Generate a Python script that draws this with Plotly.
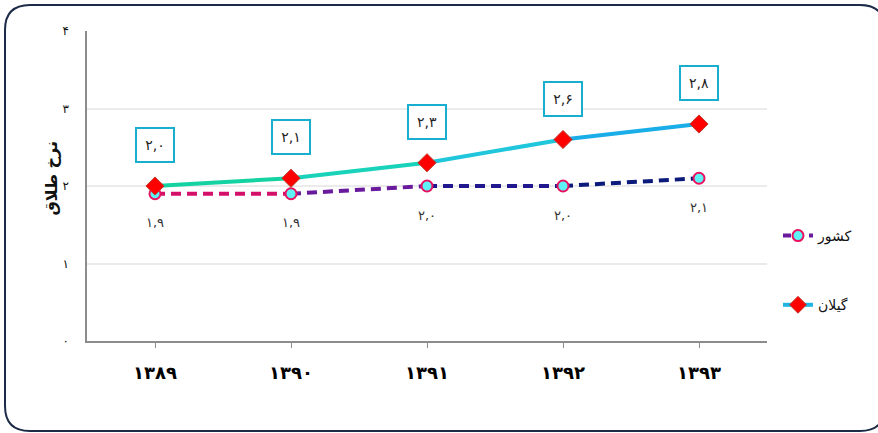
import plotly.graph_objects as go

years = ["۱۳۸۹", "۱۳۹۰", "۱۳۹۱", "۱۳۹۲", "۱۳۹۳"]
keshvar = [1.9, 1.9, 2.0, 2.0, 2.1]
gilan = [2.0, 2.1, 2.3, 2.6, 2.8]
y_ticks = [0, 1, 2, 3, 4]
y_tick_text = ["۰", "۱", "۲", "۳", "۴"]
name_keshvar = "کشور"
name_gilan = "گیلان"
y_title = "نرخ طلاق"

keshvar_seg_colors = ["#d4106a", "#6a1a9c", "#22188e", "#0c1a7c"]
gilan_seg_colors = ["#14d2a2", "#18d2ba", "#1fc6dc", "#1aaee8"]

W, H = 878, 433
ML, MR, MT, MB = 87, 111, 31, 92
PW = W - ML - MR
PH = H - MT - MB

FA = str.maketrans("0123456789.", "۰۱۲۳۴۵۶۷۸۹,")


def fa(v):
    return f"{v:.1f}".translate(FA)


def px(x):
    return (x - ML) / PW


def py(y):
    return (H - MB - y) / PH


x_idx = list(range(len(years)))
fig = go.Figure()

# legend proxies
fig.add_trace(go.Scatter(x=[None], y=[None], mode="lines+markers", name=name_keshvar,
                         legendgroup="k",
                         line=dict(color="#6a1a9c", width=4, dash="8px,5px"),
                         marker=dict(symbol="circle", size=11, color="#5ef2f5",
                                     line=dict(color="#ea1060", width=2))))
fig.add_trace(go.Scatter(x=[None], y=[None], mode="lines+markers", name=name_gilan,
                         legendgroup="g",
                         line=dict(color="#1fb4e4", width=4),
                         marker=dict(symbol="diamond", size=13, color="#ff0000",
                                     line=dict(color="#c0392b", width=1))))

# country segments
for i in range(len(years) - 1):
    fig.add_trace(go.Scatter(x=x_idx[i:i + 2], y=keshvar[i:i + 2], mode="lines",
                             showlegend=False, hoverinfo="skip",
                             line=dict(color=keshvar_seg_colors[i], width=4, dash="10px,6px")))
fig.add_trace(go.Scatter(x=x_idx, y=keshvar, mode="markers", showlegend=False,
                         marker=dict(symbol="circle", size=11, color="#5ef2f5",
                                     line=dict(color="#ea1060", width=2))))
# gilan segments
for i in range(len(years) - 1):
    fig.add_trace(go.Scatter(x=x_idx[i:i + 2], y=gilan[i:i + 2], mode="lines",
                             showlegend=False, hoverinfo="skip",
                             line=dict(color=gilan_seg_colors[i], width=4)))
fig.add_trace(go.Scatter(x=x_idx, y=gilan, mode="markers", showlegend=False,
                         marker=dict(symbol="diamond", size=14, color="#ff0000",
                                     line=dict(color="#c0392b", width=1))))

annotations = []
for i, v in enumerate(gilan):
    annotations.append(dict(x=x_idx[i], y=v, xref="x", yref="y", text=fa(v),
                            showarrow=False, yshift=41,
                            font=dict(size=14, color="#222", family="DejaVu Sans"),
                            bgcolor="white", bordercolor="#17aed0", borderwidth=2,
                            borderpad=5, width=26, height=22))
for i, v in enumerate(keshvar):
    annotations.append(dict(x=x_idx[i], y=v, xref="x", yref="y", text=fa(v),
                            showarrow=False, yshift=-29,
                            font=dict(size=13, color="#333", family="DejaVu Sans")))
annotations.append(dict(x=px(39), y=py(178), xref="paper", yref="paper", text=f"<b>{y_title}</b>",
                        showarrow=False, textangle=-90,
                        font=dict(size=16, color="#111", family="DejaVu Sans")))

# rounded border
x0, y0, x1, y1 = px(5), py(5), px(885), py(431)
rx = 25 / PW
ry = 25 / PH
path = (f"M {x0 + rx},{y0} L {x1 - rx},{y0} Q {x1},{y0} {x1},{y0 - ry} "
        f"L {x1},{y1 + ry} Q {x1},{y1} {x1 - rx},{y1} "
        f"L {x0 + rx},{y1} Q {x0},{y1} {x0},{y1 + ry} "
        f"L {x0},{y0 - ry} Q {x0},{y0} {x0 + rx},{y0} Z")

fig.update_layout(
    width=W, height=H,
    margin=dict(l=ML, r=MR, t=MT, b=MB, pad=0),
    paper_bgcolor="white", plot_bgcolor="white",
    font=dict(family="DejaVu Sans", color="#111"),
    showlegend=True,
    legend=dict(x=px(778), y=py(220), xanchor="left", yanchor="top",
                traceorder="grouped", tracegroupgap=48,
                font=dict(size=14, color="#111"), bgcolor="rgba(0,0,0,0)"),
    annotations=annotations,
    shapes=[dict(type="path", xref="paper", yref="paper", path=path,
                 line=dict(color="#1c2b48", width=2), fillcolor="rgba(0,0,0,0)", layer="above")],
    xaxis=dict(range=[-0.5, 4.5], tickmode="array", tickvals=x_idx,
               ticktext=[f"<b>{t}</b>" for t in years],
               showgrid=False, zeroline=False, showline=True, linecolor="#8c8c8c", linewidth=1.5,
               ticks="outside", ticklen=5, tickcolor="#8c8c8c",
               tickfont=dict(size=18, color="#000"), ticklabelstandoff=10),
    yaxis=dict(range=[0, 4], tickmode="array", tickvals=y_ticks, ticktext=y_tick_text,
               showgrid=True, gridcolor="#ebebeb", gridwidth=1.5, zeroline=False,
               showline=True, linecolor="#8c8c8c", linewidth=1.5, ticks="",
               tickfont=dict(size=12, color="#111"), ticklabelstandoff=14),
)

fig.write_html("out.html")
